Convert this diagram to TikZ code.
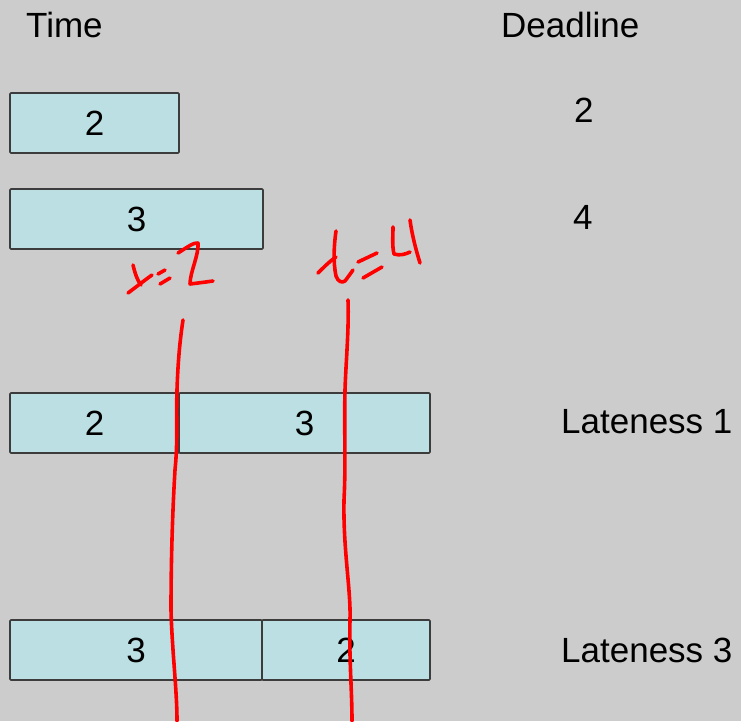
\documentclass[tikz,border=0pt]{standalone}
\usepackage{fontspec}
\setmainfont{Liberation Sans}
\definecolor{bg}{RGB}{204,204,204}
\definecolor{boxfill}{RGB}{187,223,226}
\definecolor{boxline}{RGB}{60,60,60}
\definecolor{ink}{RGB}{255,0,0}
\begin{document}
\begin{tikzpicture}[x=1pt,y=-1pt,
  every node/.style={font=\fontsize{35}{38}\selectfont},
  job/.style={draw=boxline, fill=boxfill, line width=1.6pt, rounded corners=1pt,
    inner sep=0pt, outer sep=0pt, minimum height=60pt, anchor=west},
  lbl/.style={inner sep=0pt, anchor=west},
  pen/.style={draw=ink, line width=3.6pt, line cap=round, line join=round}]
\fill[bg] (0,0) rectangle (741,721);
\useasboundingbox (0,0) rectangle (741,721);
% headings
\node[lbl] (time) at (26,25) {Time};
\node[lbl] (deadline) at (501,25) {Deadline};
\node[lbl] (d1) at (574,110) {2};
\node[lbl] (d2) at (573,217) {4};
% single jobs
\node[job, minimum width=169pt] (j1) at (10,123) {2};
\node[job, minimum width=253pt] (j2) at (10,219) {3};
% schedule 1
\node[job, minimum width=169pt] (s1a) at (10,423) {2};
\node[job, minimum width=251pt] (s1b) at (s1a.east) {3};
\node[lbl] (late1) at (561,422) {Lateness 1};
% schedule 2
\node[job, minimum width=252pt] (s2a) at (10,650) {3};
\node[job, minimum width=168pt] (s2b) at (s2a.east) {2};
\node[lbl] (late2) at (561,650) {Lateness 3};
% handwriting "x=2"
\draw[pen] (133,265) .. controls (135,273) and (137,280) .. (141,285);
\draw[pen] (128,293) .. controls (136,287) and (145,280) .. (152,275);
\draw[pen] (158,274) -- (165,270);
\draw[pen] (160,284) -- (170,278);
\draw[pen] (178,253) .. controls (186,248) and (194,242) .. (198,243)
  .. controls (199,255) and (190,272) .. (190,284) .. controls (198,283) and (206,282) .. (213,281);
% handwriting "t=4"
\draw[pen] (336,231) .. controls (334,245) and (333,262) .. (336,276)
  .. controls (338,282) and (342,283) .. (345,281) .. controls (348,277) and (351,273) .. (353,270);
\draw[pen] (318,273) .. controls (324,267) and (330,261) .. (336,257);
\draw[pen] (358,262) -- (377,253);
\draw[pen] (363,278) -- (382,267);
\draw[pen] (393,227) .. controls (393,236) and (392,246) .. (394,254)
  .. controls (400,256) and (406,254) .. (410,252);
\draw[pen] (410,220) .. controls (412,235) and (416,250) .. (420,263);
% red time markers
\coordinate (m1top) at (183,320);
\coordinate (m1bot) at (177,721);
\coordinate (m2top) at (348,300);
\coordinate (m2bot) at (352,721);
\draw[pen] (m1top) .. controls (180,340) and (178,360) .. (177,390)
  .. controls (176,420) and (178,440) .. (175,470)
  .. controls (172,520) and (171,570) .. (171,610)
  .. controls (172,650) and (177,690) .. (m1bot);
\draw[pen] (m2top) .. controls (349,330) and (346,360) .. (345,390)
  .. controls (344,430) and (346,460) .. (344,500)
  .. controls (343,550) and (351,590) .. (350,620)
  .. controls (349,660) and (352,690) .. (m2bot);
\end{tikzpicture}
\end{document}
